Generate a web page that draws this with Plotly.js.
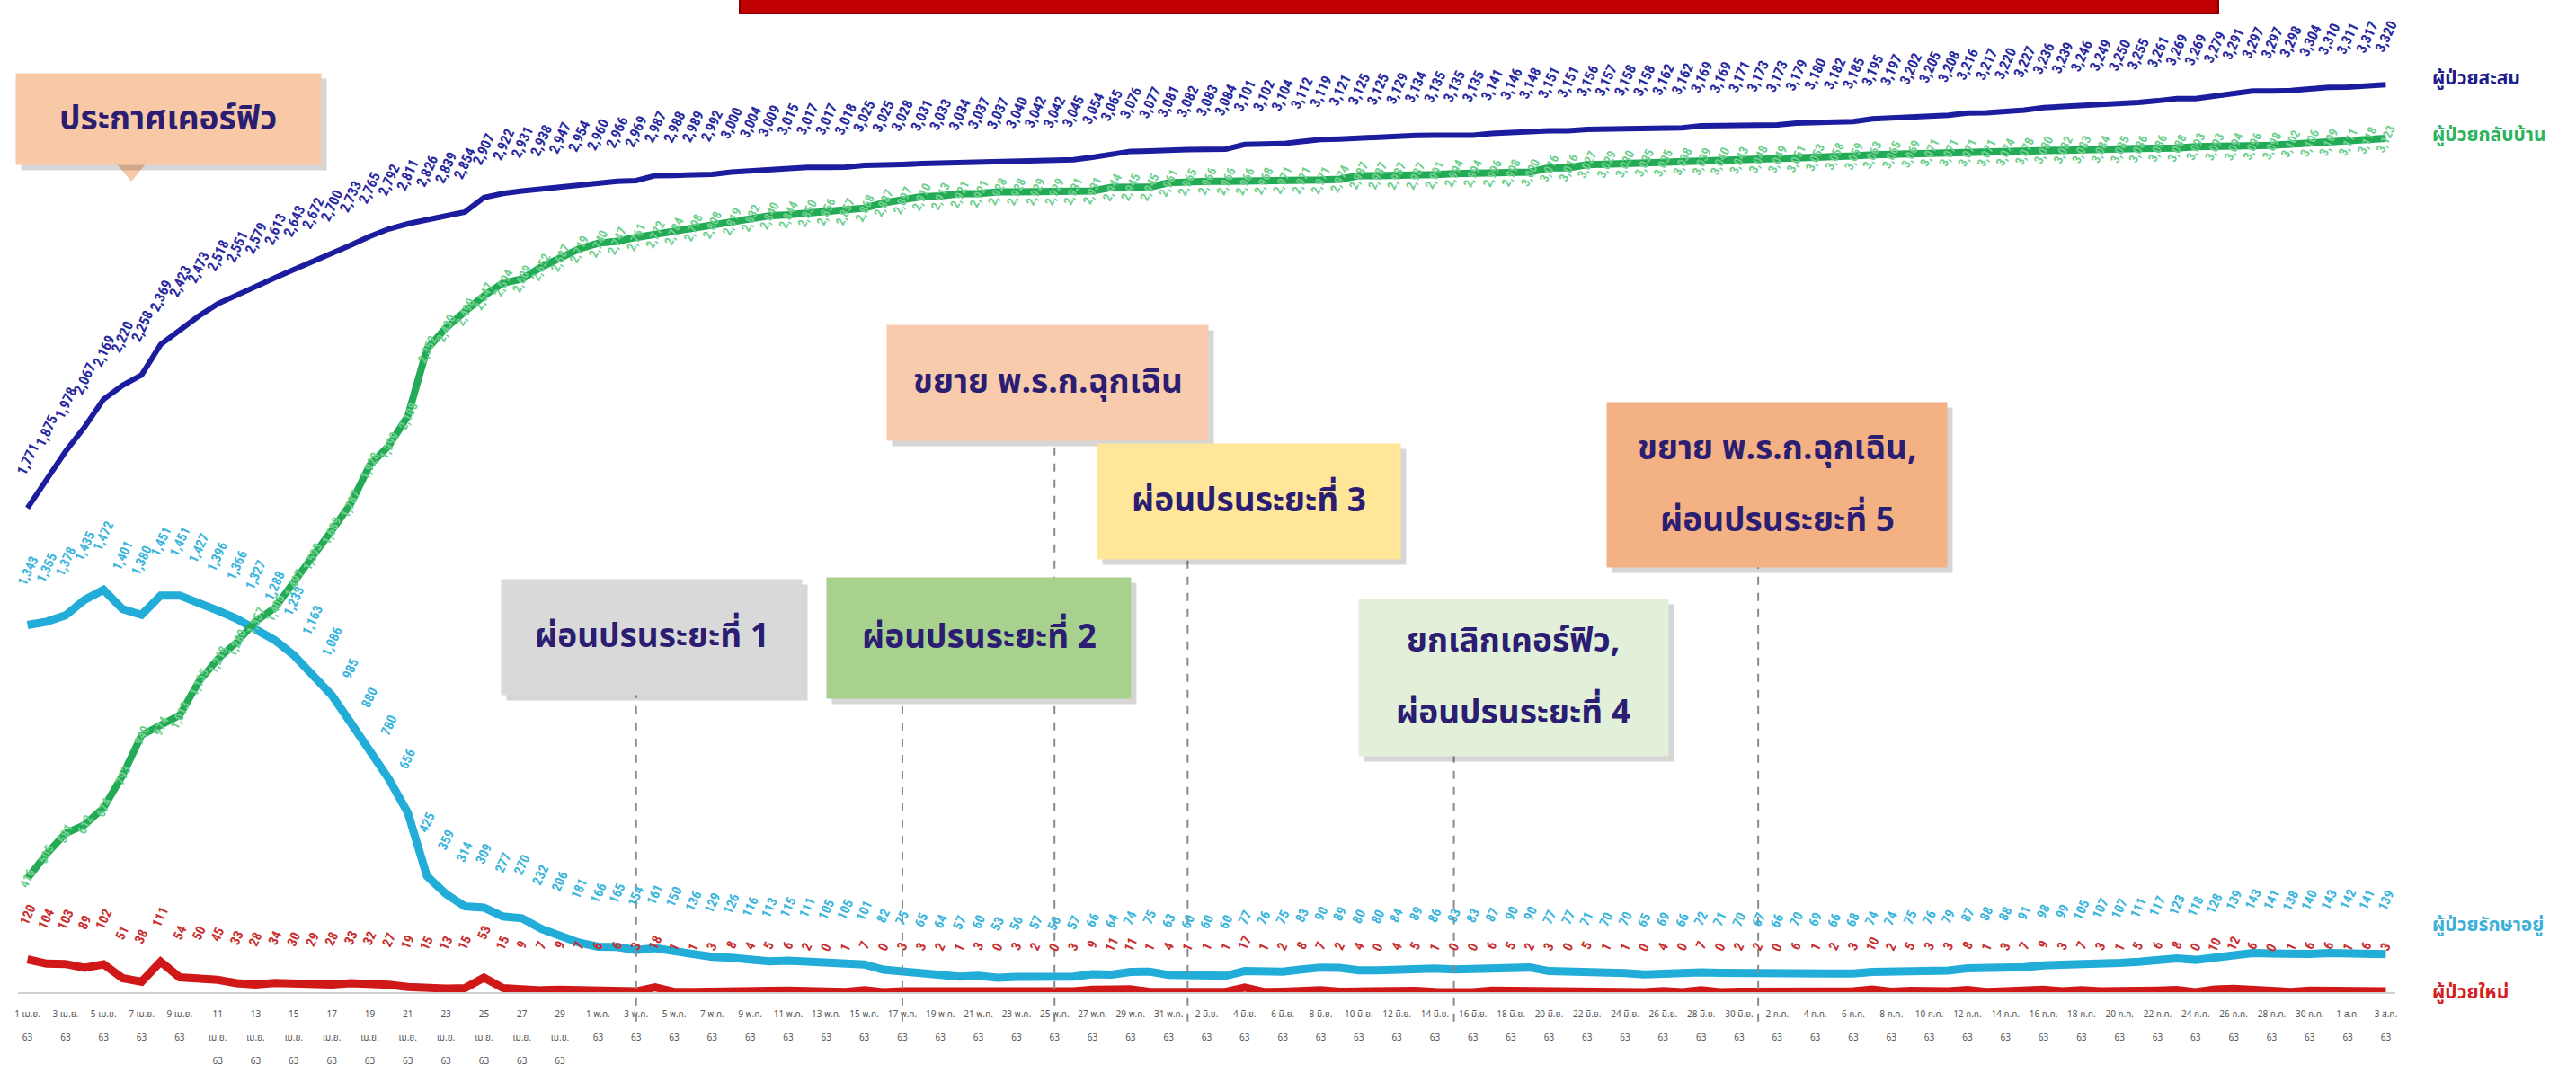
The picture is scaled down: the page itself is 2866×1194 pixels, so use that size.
<!DOCTYPE html>
<html><head><meta charset="utf-8">
<script src="https://cdn.plot.ly/plotly-3.0.1.min.js"></script>
<style>html,body{margin:0;padding:0;background:#fff}#chart{width:2866px;height:1194px}</style>
</head><body><div id="chart"></div>
<script>
// ---- categories (dates, 1 Apr – 3 Aug 2020) ----
const dayKeys = [
'04-01','04-02','04-03','04-04','04-05','04-06','04-07','04-08','04-09','04-10','04-11','04-12','04-13','04-14','04-15',
'04-16','04-17','04-18','04-19','04-20','04-21','04-22','04-23','04-24','04-25','04-26','04-27','04-28','04-29','04-30',
'05-01','05-02','05-03','05-04','05-05','05-06','05-07','05-08','05-09','05-10','05-11','05-12','05-13','05-14','05-15','05-16',
'05-17','05-18','05-19','05-20','05-21','05-22','05-23','05-24','05-25','05-26','05-27','05-28','05-29','05-30','05-31',
'06-01','06-02','06-03','06-04','06-05','06-06','06-07','06-08','06-09','06-10','06-11','06-12','06-13','06-14','06-15',
'06-16','06-17','06-18','06-19','06-20','06-21','06-22','06-23','06-24','06-25','06-26','06-27','06-28','06-29','06-30',
'07-01','07-02','07-03','07-04','07-05','07-06','07-07','07-08','07-09','07-10','07-11','07-12','07-13','07-14','07-15','07-16',
'07-17','07-18','07-19','07-20','07-21','07-22','07-23','07-24','07-25','07-26','07-27','07-28','07-29','07-30','07-31',
'08-01','08-02','08-03'];
const dates = dayKeys.map(d => '2020-' + d);

// ---- series ----
const cumulative = [
1771,1875,1978,2067,2169,2220,2258,2369,2423,2473,2518,2551,2579,2613,2643,2672,2700,2733,2765,2792,2811,2826,2839,2854,2907,2922,2931,2938,2947,2954,
2960,2966,2969,2987,2988,2989,2992,3000,3004,3009,3015,3017,3017,3018,3025,3025,3028,3031,3033,3034,3037,3037,3040,3042,3042,3045,3054,3065,3076,3077,3081,
3082,3083,3084,3101,3102,3104,3112,3119,3121,3125,3125,3129,3134,3135,3135,3135,3141,3146,3148,3151,3151,3156,3157,3158,3158,3162,3162,3169,3169,3171,
3173,3173,3179,3180,3182,3185,3195,3197,3202,3205,3208,3216,3217,3220,3227,3236,3239,3246,3249,3250,3255,3261,3269,3269,3279,3291,3297,3297,3298,3304,3310,
3311,3317,3320];
const recovered = [
416,505,581,612,674,793,940,974,1013,1135,1218,1280,1357,1405,1497,1593,1689,1787,1928,1999,2108,2352,2430,2490,2547,2594,2609,2652,2687,2719,
2740,2747,2761,2772,2784,2798,2808,2819,2832,2840,2844,2850,2856,2857,2868,2887,2897,2910,2913,2921,2921,2928,2928,2929,2929,2931,2931,2944,2945,2945,2961,
2965,2966,2966,2966,2968,2971,2971,2971,2974,2987,2987,2987,2987,2991,2994,2994,2996,2998,3000,3016,3016,3027,3029,3030,3035,3035,3038,3039,3040,3043,
3048,3049,3051,3053,3058,3059,3063,3065,3069,3071,3071,3071,3071,3074,3078,3080,3082,3083,3084,3085,3086,3086,3088,3093,3093,3094,3096,3098,3102,3106,3109,
3111,3118,3123];
const active = [
1343,1355,1378,1435,1472,1401,1380,1451,1451,1427,1396,1366,1327,1288,1233,1163,1086,985,880,780,656,425,359,314,309,277,270,232,206,181,
166,165,154,161,150,136,129,126,116,113,115,111,105,105,101,82,75,65,64,57,60,53,56,57,56,57,66,64,74,75,63,
60,60,60,77,76,75,83,90,89,80,80,84,89,86,83,83,87,90,90,77,77,71,70,70,65,69,66,72,71,70,
67,66,70,69,66,68,74,74,75,76,79,87,88,88,91,98,99,105,107,107,111,117,123,118,128,139,143,141,138,140,143,
142,141,139];
const newCases = [
120,104,103,89,102,51,38,111,54,50,45,33,28,34,30,29,28,33,32,27,19,15,13,15,53,15,9,7,9,7,
6,6,3,18,1,1,3,8,4,5,6,2,0,1,7,0,3,3,2,1,3,0,3,2,0,3,9,11,11,1,4,
1,1,1,17,1,2,8,7,2,4,0,4,5,1,0,0,6,5,2,3,0,5,1,1,0,4,0,7,0,2,
2,0,6,1,2,3,10,2,5,3,3,8,1,3,7,9,3,7,3,1,5,6,8,0,10,12,6,0,1,6,6,
1,6,3];

const seriesNames = ['ผู้ป่วยสะสม','ผู้ป่วยกลับบ้าน','ผู้ป่วยรักษาอยู่','ผู้ป่วยใหม่'];

// ---- tick labels (every second day) ----
const tickLabels = [
'1 เม.ย.|63','3 เม.ย.|63','5 เม.ย.|63','7 เม.ย.|63','9 เม.ย.|63','11|เม.ย.|63','13|เม.ย.|63','15|เม.ย.|63','17|เม.ย.|63',
'19|เม.ย.|63','21|เม.ย.|63','23|เม.ย.|63','25|เม.ย.|63','27|เม.ย.|63','29|เม.ย.|63',
'1 พ.ค.|63','3 พ.ค.|63','5 พ.ค.|63','7 พ.ค.|63','9 พ.ค.|63','11 พ.ค.|63','13 พ.ค.|63','15 พ.ค.|63','17 พ.ค.|63','19 พ.ค.|63',
'21 พ.ค.|63','23 พ.ค.|63','25 พ.ค.|63','27 พ.ค.|63','29 พ.ค.|63','31 พ.ค.|63',
'2 มิ.ย.|63','4 มิ.ย.|63','6 มิ.ย.|63','8 มิ.ย.|63','10 มิ.ย.|63','12 มิ.ย.|63','14 มิ.ย.|63','16 มิ.ย.|63','18 มิ.ย.|63',
'20 มิ.ย.|63','22 มิ.ย.|63','24 มิ.ย.|63','26 มิ.ย.|63','28 มิ.ย.|63','30 มิ.ย.|63',
'2 ก.ค.|63','4 ก.ค.|63','6 ก.ค.|63','8 ก.ค.|63','10 ก.ค.|63','12 ก.ค.|63','14 ก.ค.|63','16 ก.ค.|63','18 ก.ค.|63',
'20 ก.ค.|63','22 ก.ค.|63','24 ก.ค.|63','26 ก.ค.|63','28 ก.ค.|63','30 ก.ค.|63',
'1 ส.ค.|63','3 ส.ค.|63'];

// ---- events ----
const eventDates = ['2020-05-03','2020-05-17','2020-05-25','2020-06-01','2020-06-15','2020-07-01'];
const eventTexts = [['ผ่อนปรนระยะที่ 1'],['ผ่อนปรนระยะที่ 2'],['ขยาย พ.ร.ก.ฉุกเฉิน'],['ผ่อนปรนระยะที่ 3'],
  ['ยกเลิกเคอร์ฟิว,','ผ่อนปรนระยะที่ 4'],['ขยาย พ.ร.ก.ฉุกเฉิน,','ผ่อนปรนระยะที่ 5']];
const curfewText = ['ประกาศเคอร์ฟิว'];

// ---- drawing ----
const THAI = 'Noto Sans Thai, Noto Sans Thai UI, Noto Sans, Tahoma, sans-serif';
const NUM = 'Liberation Sans Narrow, Arial Narrow, Roboto Condensed, sans-serif';
const C = {blue:'#1c1c9e', green:'#22aa55', lblue:'#22acd8', red:'#d01818'};
const fmt = v => v.toLocaleString('en-US');

const traces = [
  {x:dates, y:active, name:seriesNames[2], mode:'lines', line:{color:C.lblue, width:9}},
  {x:dates, y:newCases, name:seriesNames[3], mode:'lines', line:{color:C.red, width:9}},
  {x:dates, y:recovered, name:seriesNames[1], mode:'lines', line:{color:C.green, width:8}},
  {x:dates, y:cumulative, name:seriesNames[0], mode:'lines', line:{color:C.blue, width:6}}
];

const ann = [];
function labels(arr, color, shift, size){
  arr.forEach((v,i) => ann.push({x:dates[i], y:v, xref:'x', yref:'y', text:fmt(v), showarrow:false,
    xanchor:'center', yanchor:'middle', textangle:-65, yshift:shift,
    font:{family:NUM, size:size, color:color, weight:'bold'}}));
}
labels(cumulative, '#2a2aa0', 54, 16);
labels(recovered, '#6fd08f', 0, 14);
labels(active, '#3bb5dc', 60, 15);
labels(newCases, '#c83030', 50, 15);

// layout geometry helpers: plot area l=20, width=2645, zero at 1104, height 1095
const L = 20, W = 2645, B = 1104, H = 1095;
const px = x => (x - L) / W, py = y => (B - y) / H;
const shapes = [];
function box(lines, x0, y0, x1, y1, bg, size){
  const cx = px((x0+x1)/2), cy = py((y0+y1)/2);
  ann.push({xref:'paper', yref:'paper', x:cx, y:cy, xanchor:'center', yanchor:'middle', xshift:6, yshift:-6,
    width:x1-x0, height:y1-y0, text:'', showarrow:false, bgcolor:'rgba(0,0,0,0.16)', borderpad:0});
  ann.push({xref:'paper', yref:'paper', x:cx, y:cy, xanchor:'center', yanchor:'middle',
    width:x1-x0, height:y1-y0, text:'', showarrow:false, bgcolor:bg, borderpad:0});
  const gap = 80;
  lines.forEach((t,k) => ann.push({xref:'paper', yref:'paper', x:cx, y:cy, xanchor:'center', yanchor:'middle',
    yshift:((lines.length-1)/2 - k)*gap, text:t, showarrow:false,
    font:{family:THAI, size:size, color:'#2a1d72', weight:'bold'}}));
}
// curfew callout
shapes.push({type:'path', xref:'paper', yref:'paper', fillcolor:'#f7c9a6', line:{width:0},
  path:`M ${px(128)} ${py(180)} L ${px(164)} ${py(180)} L ${px(146)} ${py(202)} Z`});
box(curfewText, 18, 82, 357, 183, '#f7c9a6', 37);
// event boxes
const boxGeo = [
  [558,645,892,773,'#d9d9d9'],
  [920,643,1258,777,'#a9d18e'],
  [987,362,1344,490,'#f8cbad'],
  [1221,494,1558,622,'#ffe699'],
  [1512,667,1856,841,'#e2efd9'],
  [1788,448,2166,631,'#f4b183']
];
eventDates.forEach((d,i) => {
  const g = boxGeo[i];
  shapes.push({type:'line', xref:'x', yref:'paper', x0:d, x1:d, y0:-0.03, y1:py(g[3]),
    line:{color:'#8a8a8a', width:2, dash:'dash'}});
});
eventDates.forEach((d,i) => { const g = boxGeo[i]; box(eventTexts[i], g[0], g[1], g[2], g[3], g[4], 37); });

// top red bar (cut title)
shapes.push({type:'rect', xref:'paper', yref:'paper', x0:px(823), x1:px(2468), y0:py(15), y1:py(-6),
  fillcolor:'#c00000', line:{color:'#8a0000', width:2}});

// series names at right
const nameGeo = [[88,'#1c1c8a'],[150,'#2db35d'],[1029,'#3cb0d6'],[1104,'#d42020']];
seriesNames.forEach((n,i) => ann.push({xref:'paper', yref:'paper', x:px(2704), y:py(nameGeo[i][0]),
  xanchor:'left', yanchor:'middle', text:n, showarrow:false,
  font:{family:THAI, size:21, color:nameGeo[i][1], weight:'bold'}}));

const layout = {
  width:2866, height:1194, margin:{l:L, r:2866-L-W, t:B-H, b:1194-B},
  paper_bgcolor:'#ffffff', plot_bgcolor:'#ffffff', showlegend:false,
  xaxis:{type:'date', range:['2020-03-31 12:00','2020-08-03 12:00'], tickvals:dates.filter((d,i)=>i%2===0),
    ticktext:tickLabels.map(t=>t.split('|').join('<br> <br>')), tickangle:0, ticks:'', showgrid:false,
    showline:true, linecolor:'#cfcfcf', linewidth:2, zeroline:false, ticklabelstandoff:14,
    tickfont:{family:THAI, size:10, color:'#555'}},
  yaxis:{range:[0,3600], visible:false, showgrid:false, zeroline:false},
  shapes:shapes, annotations:ann
};
Plotly.newPlot('chart', traces, layout, {staticPlot:true});
</script></body></html>
